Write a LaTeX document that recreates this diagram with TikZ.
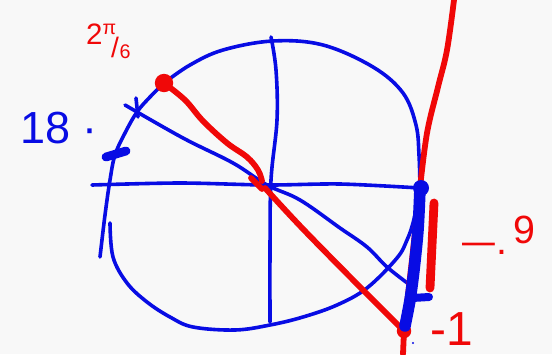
\documentclass[tikz,border=0pt]{standalone}
\usepackage{fontspec}
\setmainfont{Liberation Sans}
\definecolor{penblue}{RGB}{8,12,228}
\definecolor{penred}{RGB}{240,8,8}
\definecolor{paper}{RGB}{248,248,248}

\begin{document}
\begin{tikzpicture}[
  x=0.5mm, y=-0.5mm,
  ink/.style={draw=penblue, line width=1.8mm, line cap=round, line join=round},
  redink/.style={draw=penred, line width=2.9mm, line cap=round, line join=round},
  bluelbl/.style={text=penblue, inner sep=0pt},
  redlbl/.style={text=penred, inner sep=0pt}
]
\fill[paper] (0,0) rectangle (552,354);
\useasboundingbox (0,0) rectangle (552,354);

\coordinate (pt) at (164,83);
\coordinate (o) at (267,185);
\coordinate (tan) at (420,188);
\coordinate (bot) at (404,331);

% circle, drawn in three strokes
\draw[ink] plot[smooth, tension=0.6] coordinates {(pt) (190,65) (223,50) (273,41) (323,45) (373,67) (403,93) (416,125) (419,155) (tan)};
\draw[ink] plot[smooth, tension=0.6] coordinates {(pt) (150,97) (137,112) (125,133) (115,155) (110,180) (105,215) (100,257)};
\draw[ink] plot[smooth, tension=0.6] coordinates {(110,223) (113,257) (127,283) (147,302) (170,317) (193,327) (235,330) (270,325) (303,317) (337,305) (367,288) (397,258) (407,240) (413,223) (418,200)};

% axes
\draw[ink] plot[smooth] coordinates {(92,185) (180,183) (o) (340,184) (tan)};
\draw[ink] plot[smooth, tension=0.6] coordinates {(271,37) (276,70) (277,120) (271,180) (270,250) (270,322)};

% tick and second ray
\draw[ink] (136,98) -- (138,117);
\draw[ink] plot[smooth, tension=0.6] coordinates {(125,105) (183,138) (233,163) (o) (300,200) (340,228) (367,247) (387,267) (410,285)};

% red tangent and ray
\draw[redink] plot[smooth, tension=0.6] coordinates {(454,0) (447,50) (438,87) (427,133) (tan)};
\draw[redink] (tan) -- (bot) -- (403,354);
\draw[redink] plot[smooth, tension=0.6] coordinates {(pt) (185,100) (203,121) (227,143) (247,157) (258,170) (262,181)};
\draw[redink] (251,178) -- (262,189);
\draw[redink] plot[smooth, tension=0.6] coordinates {(265,188) (303,229) (363,290) (bot)};
\fill[penred] (pt) circle[radius=4.6mm];
\fill[penred] (bot) circle[radius=3.6mm];

% thick blue segment
\draw[penblue, line width=5.8mm, line cap=round] plot[smooth] coordinates {(tan) (418,230) (414,270) (410,300) (405,326)};
\fill[penblue] (421,188) circle[radius=4mm];
\draw[penblue, line width=4mm, line cap=round] (412,298) -- (429,297);
\draw[penblue, line width=4.4mm, line cap=round] (106,157) -- (126,151);
\fill[penblue] (413,343) circle[radius=0.6mm];

% thick red segment
\draw[penred, line width=4.4mm, line cap=round] (434,203) -- (430,288);

% labels
\node[redlbl, anchor=base west] (angle) at (86,44) {\fontsize{42}{42}\selectfont 2\fontsize{28}{28}\selectfont\raisebox{5mm}{π}\kern-2.5mm\fontsize{40}{40}\selectfont\raisebox{-6.5mm}{/}\kern0.3mm\fontsize{28}{28}\selectfont\raisebox{-7mm}{6}};
\node[bluelbl, anchor=base west] (deg) at (20,143) {\fontsize{64}{64}\selectfont 18 ·};
\node[redlbl, anchor=base west] (sinval) at (462,254) {\fontsize{56}{56}\selectfont \scalebox{1.5}[1]{–}\kern1mm.\kern3mm\raisebox{5.5mm}{9}};
\node[redlbl, anchor=base west] (minusone) at (430,345) {\fontsize{68}{68}\selectfont -1};
\end{tikzpicture}
\end{document}
